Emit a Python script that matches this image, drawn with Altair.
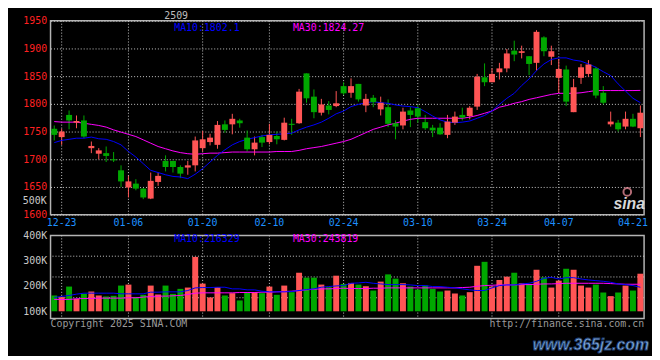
import altair as alt
import pandas as pd

dates = ["12-20", "12-23", "12-24", "12-25", "12-26", "12-27", "12-30", "12-31", "01-02", "01-03",
         "01-06", "01-07", "01-08", "01-09", "01-10", "01-13", "01-14", "01-15", "01-16", "01-17",
         "01-20", "01-21", "01-22", "01-23", "01-24", "01-27", "02-05", "02-06", "02-07", "02-10",
         "02-11", "02-12", "02-13", "02-14", "02-17", "02-18", "02-19", "02-20", "02-21", "02-24",
         "02-25", "02-26", "02-27", "02-28", "03-03", "03-04", "03-05", "03-06", "03-07", "03-10",
         "03-11", "03-12", "03-13", "03-14", "03-17", "03-18", "03-19", "03-20", "03-21", "03-24",
         "03-25", "03-26", "03-27", "03-28", "03-31", "04-01", "04-02", "04-03", "04-07", "04-08",
         "04-09", "04-10", "04-11", "04-14", "04-15", "04-16", "04-17", "04-18", "04-21", "04-22"]

opens = [1755, 1740, 1780, 1766, 1770, 1720, 1710, 1711, 1700, 1680,
         1649, 1656, 1647, 1629, 1659, 1697, 1697, 1686, 1685, 1689,
         1720, 1731, 1726, 1763, 1763, 1770, 1739, 1718, 1740, 1731,
         1742, 1735, 1764, 1765, 1855, 1813, 1784, 1797, 1796, 1832,
         1820, 1836, 1797, 1811, 1790, 1794, 1765, 1761, 1788, 1792,
         1767, 1757, 1757, 1744, 1766, 1780, 1778, 1795, 1848, 1839,
         1857, 1864, 1896, 1892, 1886, 1874, 1920, 1885, 1847, 1862,
         1785, 1847, 1854, 1864, 1820, 1763, 1766, 1759, 1773, 1756]
highs = [1761, 1755, 1788, 1779, 1779, 1732, 1720, 1723, 1713, 1689,
         1670, 1664, 1648, 1676, 1676, 1707, 1697, 1689, 1697, 1741,
         1751, 1746, 1769, 1770, 1782, 1773, 1752, 1741, 1744, 1764,
         1750, 1775, 1773, 1827, 1855, 1826, 1809, 1805, 1823, 1839,
         1846, 1836, 1818, 1816, 1813, 1808, 1770, 1793, 1794, 1798,
         1780, 1762, 1765, 1780, 1786, 1793, 1796, 1854, 1873, 1864,
         1874, 1899, 1914, 1905, 1886, 1933, 1922, 1905, 1881, 1869,
         1845, 1872, 1879, 1867, 1832, 1786, 1771, 1786, 1782, 1797]
lows = [1734, 1726, 1754, 1756, 1738, 1711, 1700, 1695, 1695, 1650,
        1631, 1644, 1628, 1628, 1652, 1678, 1676, 1666, 1672, 1678,
        1714, 1725, 1719, 1748, 1745, 1757, 1714, 1707, 1722, 1727,
        1727, 1734, 1744, 1764, 1802, 1774, 1779, 1781, 1794, 1816,
        1811, 1804, 1785, 1794, 1779, 1758, 1736, 1754, 1758, 1766,
        1753, 1740, 1744, 1738, 1762, 1770, 1772, 1789, 1832, 1839,
        1844, 1857, 1877, 1882, 1852, 1860, 1886, 1870, 1820, 1796,
        1785, 1836, 1849, 1810, 1799, 1759, 1750, 1754, 1758, 1740]
closes = [1744, 1750, 1770, 1769, 1741, 1724, 1716, 1706, 1698, 1660,
          1660, 1647, 1631, 1661, 1670, 1686, 1686, 1674, 1689, 1734,
          1736, 1739, 1762, 1753, 1773, 1765, 1718, 1730, 1730, 1744,
          1736, 1766, 1762, 1822, 1810, 1785, 1799, 1789, 1801, 1819,
          1832, 1808, 1809, 1803, 1802, 1764, 1759, 1786, 1780, 1777,
          1756, 1752, 1745, 1768, 1777, 1775, 1793, 1849, 1839, 1854,
          1864, 1891, 1889, 1895, 1872, 1930, 1895, 1895, 1863, 1804,
          1830, 1866, 1871, 1815, 1802, 1768, 1754, 1773, 1759, 1784]

ma10 = [1730, 1734, 1736, 1738, 1738, 1740, 1737, 1736, 1732, 1726,
        1714, 1704, 1692, 1680, 1676, 1672, 1669, 1668, 1665, 1673,
        1683, 1695, 1707, 1717, 1726, 1732, 1736, 1739, 1742, 1744,
        1745, 1746, 1747, 1753, 1758, 1762, 1767, 1774, 1782, 1787,
        1795, 1799, 1802, 1804, 1802, 1801, 1798, 1796, 1795, 1793,
        1786, 1778, 1771, 1767, 1766, 1767, 1769, 1774, 1779, 1787,
        1799, 1810, 1819, 1833, 1845, 1860, 1872, 1880, 1883, 1883,
        1879, 1877, 1872, 1866, 1858, 1851, 1836, 1823, 1810, 1802.1]
ma30 = [1768, 1767, 1767, 1767, 1765, 1763, 1761, 1758, 1753, 1749,
        1745, 1741, 1735, 1729, 1723, 1719, 1715, 1712, 1710, 1709,
        1710, 1711, 1711, 1712, 1713, 1713, 1713, 1713, 1713, 1713,
        1714, 1714, 1714, 1716, 1719, 1721, 1723, 1726, 1729, 1732,
        1736, 1742, 1748, 1754, 1758, 1762, 1765, 1769, 1772, 1774,
        1774, 1774, 1774, 1774, 1774, 1774, 1776, 1779, 1783, 1787,
        1794, 1797, 1801, 1804, 1808, 1811, 1814, 1817, 1819, 1819,
        1819, 1820, 1822, 1824, 1824, 1824, 1824, 1824, 1824, 1824.27]

# volume, in thousands (as scaled on the chart's volume axis)
volumes = [162.6, 156.1, 197.8, 149.5, 169.1, 178.2, 162.6, 158.7, 161.3, 201.7,
           205.6, 156.1, 165.2, 201.7, 166.5, 201.7, 169.1, 188.7, 193.9, 315.1,
           209.5, 154.8, 195.2, 162.6, 171.7, 143.0, 175.6, 175.6, 171.7, 197.8,
           165.2, 201.7, 175.6, 252.5, 233.0, 233.0, 205.6, 195.2, 240.8, 208.2,
           212.1, 205.6, 199.1, 182.1, 217.3, 246.0, 229.1, 210.8, 197.8, 186.0,
           201.7, 188.7, 178.2, 182.1, 170.4, 162.6, 175.6, 279.9, 295.6, 197.8,
           223.9, 236.9, 252.5, 210.8, 208.2, 264.3, 234.3, 193.9, 221.2, 268.2,
           264.3, 201.7, 193.9, 205.6, 174.3, 160.0, 174.3, 201.7, 182.1, 248.6]
vol_ma10 = [154.8, 158.7, 162.6, 167.8, 171.7, 171.7, 171.7, 171.7, 171.7, 169.1,
            169.1, 169.1, 169.1, 175.6, 175.6, 176.9, 176.9, 176.9, 182.1, 192.6,
            193.9, 193.9, 195.2, 195.2, 188.7, 188.7, 184.7, 184.7, 179.5, 176.9,
            176.9, 176.9, 178.2, 182.1, 186.0, 188.7, 195.2, 197.8, 200.4, 201.7,
            210.8, 212.1, 214.7, 210.8, 208.2, 205.6, 205.6, 205.6, 204.3, 201.7,
            201.7, 197.8, 197.8, 195.2, 192.6, 188.7, 184.7, 182.1, 182.1, 192.6,
            201.7, 204.3, 204.3, 208.2, 210.8, 218.6, 230.4, 234.3, 227.8, 233.0,
            233.0, 227.8, 223.9, 221.2, 218.6, 214.7, 208.2, 205.6, 201.7, 195.2]
vol_ma30 = [146.9, 146.9, 146.9, 149.5, 150.8, 150.8, 152.1, 152.1, 152.1, 152.1,
            153.5, 153.5, 156.1, 158.7, 160.0, 160.0, 161.3, 162.6, 166.5, 171.7,
            173.0, 173.0, 173.0, 173.0, 173.0, 174.3, 174.3, 174.3, 175.6, 175.6,
            176.9, 178.2, 179.5, 182.1, 184.7, 187.3, 188.7, 188.7, 190.0, 191.3,
            190.0, 190.0, 190.0, 191.3, 191.3, 192.6, 192.6, 192.6, 192.6, 192.6,
            192.6, 192.6, 192.6, 192.6, 192.6, 193.9, 195.2, 199.1, 201.7, 203.0,
            204.3, 204.3, 204.3, 205.6, 205.6, 206.9, 208.2, 208.2, 209.5, 210.8,
            210.8, 210.8, 210.8, 210.8, 210.8, 209.5, 208.2, 206.9, 206.9, 206.9]

date_labels = ["12-23", "01-06", "01-20", "02-10", "02-24", "03-10", "03-24", "04-07", "04-21"]
grid_dates = ["12-23", "01-06", "01-20", "02-10", "02-24", "03-10", "03-24", "04-07"]
price_ticks = [1600, 1650, 1700, 1750, 1800, 1850, 1900, 1950]
price_domain = [1600, 1950]
vol_ticks = [100, 200, 300, 400]
vol_domain = [71.5, 400]
vol_base = 100

contract = "2509"
ma10_text = "MA10:1802.1"
ma30_text = "MA30:1824.27"
vol_ma10_text = "MA10:216329"
vol_ma30_text = "MA30:243819"
odd_label = "500K"
copyright_text = "Copyright 2025 SINA.COM"
url_text = "http://finance.sina.com.cn"
watermark = "www.365jz.com"

UP = "#ff5555"
DOWN = "#00a800"
GRID = "#c8c8c8"
FONT = "DejaVu Sans Mono"
BLUE = "#0000ff"
MAGENTA = "#ff00ff"

df = pd.DataFrame({
    "date": dates, "open": opens, "high": highs, "low": lows, "close": closes,
    "ma10": ma10, "ma30": ma30, "vol": volumes, "vma10": vol_ma10, "vma30": vol_ma30,
})
df["dir"] = ["up" if c >= o else "down" for o, c in zip(opens, closes)]

xscale = alt.Scale(type="band", domain=dates, paddingInner=0, paddingOuter=0)
color = alt.Color("dir:N", scale=alt.Scale(domain=["up", "down"], range=[UP, DOWN]), legend=None)
pscale = alt.Scale(domain=price_domain, nice=False, zero=False)
vscale = alt.Scale(domain=vol_domain, nice=False, zero=False)

date_axis = alt.Axis(values=date_labels, labelColor="#1e90ff", labelFont=FONT, labelFontSize=10,
                     labelAngle=0, labelPadding=3, ticks=False, domain=False, grid=False,
                     title=None, labelOverlap=False)
price_axis = alt.Axis(values=price_ticks, format="d", labelColor="#ff2020", labelFont=FONT,
                      labelFontSize=10, labelPadding=4, ticks=False, domain=False, grid=True,
                      gridColor=GRID, gridDash=[1, 2], title=None)
vol_axis = alt.Axis(values=vol_ticks, labelExpr="datum.value + 'K'", labelColor="#c8c8c8",
                    labelFont=FONT, labelFontSize=10, labelPadding=4, ticks=False, domain=False,
                    grid=False, title=None)


def PX():
    return alt.X("date:O", scale=xscale, axis=date_axis)


def VX():
    return alt.X("date:O", scale=xscale, axis=None)


def PY(field):
    return alt.Y(field, scale=pscale, axis=price_axis)


def VY(field):
    return alt.Y(field, scale=vscale, axis=vol_axis)


def label(text, col, x, y, align="left", size=10, font=FONT, **kw):
    return alt.Chart(pd.DataFrame({"t": [text]})).mark_text(
        color=col, font=font, fontSize=size, align=align, baseline="middle", **kw
    ).encode(x=alt.value(x), y=alt.value(y), text="t:N")


base = alt.Chart(df)
vgrid_df = pd.DataFrame({"date": grid_dates})

# ---------------- price panel ----------------
p_vgrid = alt.Chart(vgrid_df).mark_rule(color=GRID, strokeDash=[1, 2], strokeWidth=1).encode(x=PX())
wicks = base.mark_rule(strokeWidth=1).encode(x=PX(), y=PY("low:Q"), y2="high:Q", color=color)
bodies = base.mark_bar(width=6).encode(x=PX(), y=PY("open:Q"), y2="close:Q", color=color)
l10 = base.mark_line(color=BLUE, strokeWidth=1).encode(x=PX(), y=PY("ma10:Q"))
l30 = base.mark_line(color=MAGENTA, strokeWidth=1).encode(x=PX(), y=PY("ma30:Q"))
odd = alt.Chart(pd.DataFrame({"t": [odd_label]})).mark_text(
    color="#c8c8c8", font=FONT, fontSize=10, align="right", baseline="middle"
).encode(x=alt.value(-4), y=alt.YDatum(1625, scale=pscale, axis=price_axis), text="t:N")
sina_eye = alt.Chart(pd.DataFrame({"t": [0]})).mark_point(
    shape="circle", filled=False, color="#ff9aa8", size=60, strokeWidth=2
).encode(x=alt.value(583), y=alt.value(173))

price = alt.layer(
    p_vgrid, wicks, l30, l10, bodies, odd, sina_eye,
    label("sina", "#d8d8d8", 601, 185, align="right", size=16, font="Liberation Sans",
          fontWeight="bold", fontStyle="italic"),
    label(ma10_text, BLUE, 125, 7),
    label(ma30_text, MAGENTA, 245, 7),
    label(contract, "#bdbdbd", 127, -5, align="center", size=10),
).properties(width=600, height=196)

# ---------------- volume panel ----------------
step = (vol_domain[1] - vol_domain[0]) / 4
hgrid_vals = [vol_domain[1] - k * step for k in (1, 2, 3)]
v_vgrid = alt.Chart(vgrid_df).mark_rule(color=GRID, strokeDash=[1, 2], strokeWidth=1).encode(x=VX())
v_hgrid = alt.Chart(pd.DataFrame({"v": hgrid_vals})).mark_rule(
    color=GRID, strokeDash=[1, 2], strokeWidth=1).encode(y=VY("v:Q"))
vbars = base.mark_bar(width=6).encode(
    x=VX(), y=VY("vol:Q"), y2=alt.Y2Datum(vol_base), color=color)
vl10 = base.mark_line(color=BLUE, strokeWidth=1).encode(x=VX(), y=VY("vma10:Q"))
vl30 = base.mark_line(color=MAGENTA, strokeWidth=1).encode(x=VX(), y=VY("vma30:Q"))

volume = alt.layer(
    v_vgrid, v_hgrid, vbars, vl30, vl10,
    label(vol_ma10_text, BLUE, 125, 4),
    label(vol_ma30_text, MAGENTA, 245, 4),
    label(copyright_text, "#9a9a9a", 0, 90),
    label(url_text, "#9a9a9a", 600, 90, align="right"),
    label(watermark, "#7fa7d9", 605, 111, align="right", size=16, font="Liberation Sans",
          fontWeight="bold", fontStyle="italic", stroke="#1f3f70", strokeWidth=0.8),
).properties(width=600, height=84)

chart = alt.vconcat(price, volume, spacing=1).properties(
    background="black",
    padding={"left": 14, "top": 0, "right": 2, "bottom": 0},
).configure_view(stroke="#b4b4b4", strokeWidth=1.5)

chart.save("out.html", embed_options={"renderer": "svg", "actions": False})
